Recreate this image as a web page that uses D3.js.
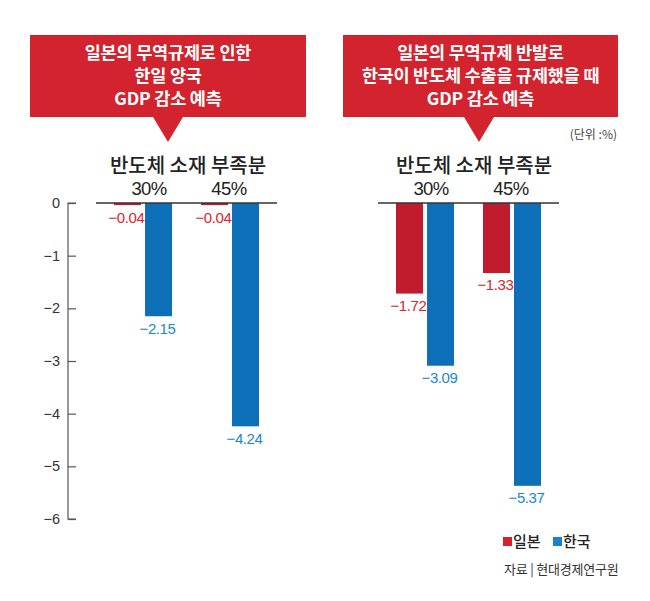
<!DOCTYPE html>
<html><head><meta charset="utf-8">
<script src="https://cdn.jsdelivr.net/npm/d3@7"></script>
<style>body{margin:0;background:#fff}svg{display:block}</style>
</head><body>
<svg id="c" width="650" height="601"></svg>
<script>
const groups = ["30%", "45%"];
const series = ["일본", "한국"];
const panelTitles = [
  ["일본의 무역규제로 인한", "한일 양국", "GDP 감소 예측"],
  ["일본의 무역규제 반발로", "한국이 반도체 수출을 규제했을 때", "GDP 감소 예측"]
];
const subtitle = "반도체 소재 부족분";
const japanLeft = [-0.04, -0.04];
const koreaLeft = [-2.15, -4.24];
const japanRight = [-1.72, -1.33];
const koreaRight = [-3.09, -5.37];
const yTicks = [0, -1, -2, -3, -4, -5, -6];
const unitLabel = "(단위 :%)";
const sourceLabel = "자료 | 현대경제연구원";

const KR = "'Noto Sans CJK KR','Noto Sans',sans-serif";
const NUM = "'Liberation Sans',Arial,sans-serif";
const colors = {box:"#d2232e", barJ:"#c01c2d", barK:"#0e6fb9", txtJ:"#e0232b", txtK:"#1b86d6"};

const svg = d3.select("#c");
const y = d3.scaleLinear().domain([0, -6]).range([203, 519]);

// y axis
const yAxis = d3.axisRight(y).tickValues(yTicks).tickSize(8).tickFormat(d => d === 0 ? "0" : "−" + Math.abs(d));
const ga = svg.append("g").attr("transform", "translate(68,0)").call(yAxis);
ga.select(".domain").attr("stroke", "#555").attr("stroke-width", 1.2).attr("d", "M8," + y(0) + "H0V" + y(-6) + "H8");
ga.selectAll(".tick line").attr("stroke", "#555").attr("stroke-width", 1.2);
ga.selectAll(".tick text").attr("x", -8).attr("text-anchor", "end").attr("font-family", NUM)
  .attr("font-size", 14.5).attr("fill", "#333");

const panels = [
  {x0: 96, x1: 277, box: [30, 306], tip: 168, j: japanLeft, k: koreaLeft, title: panelTitles[0], subX: 188},
  {x0: 378, x1: 559, box: [343, 618], tip: 479, j: japanRight, k: koreaRight, title: panelTitles[1], subX: 474}
];

panels.forEach(p => {
  const g = svg.append("g");
  // callout box
  const boxTop = 35, boxBot = 117;
  g.append("path").attr("fill", colors.box)
    .attr("d", `M${p.box[0]},${boxTop}H${p.box[1]}V${boxBot}H${p.tip + 15}L${p.tip},${142}L${p.tip - 15},${boxBot}H${p.box[0]}Z`);
  const cx = (p.box[0] + p.box[1]) / 2;
  p.title.forEach((t, i) => {
    g.append("text").attr("x", cx).attr("y", 53 + i * 23).attr("dy", "0.36em")
      .attr("text-anchor", "middle").attr("font-family", KR).attr("font-weight", 700)
      .attr("font-size", 17.5).attr("fill", "#fff").attr("letter-spacing", -0.2).text(t);
  });
  // subtitle
  g.append("text").attr("x", p.subX).attr("y", 166).attr("dy", "0.36em").attr("text-anchor", "middle")
    .attr("font-family", KR).attr("font-weight", 500).attr("font-size", 20).attr("fill", "#222").text(subtitle);

  const x0 = d3.scaleBand().domain(groups).range([p.x0, p.x1]).paddingInner(0.333).paddingOuter(0.207);
  const x1 = d3.scaleBand().domain(series).range([0, x0.bandwidth()]).paddingInner(0.13);

  groups.forEach((gr, i) => {
    g.append("text").attr("x", x0(gr) + x0.bandwidth() / 2 + (i === 0 ? 6 : -1)).attr("y", 188).attr("dy", "0.36em")
      .attr("text-anchor", "middle").attr("font-family", NUM).attr("font-size", 18.5).attr("fill", "#222")
      .attr("letter-spacing", -0.6).text(gr);
    const vals = [p.j[i], p.k[i]];
    vals.forEach((v, si) => {
      const bx = x0(gr) + x1(series[si]);
      g.append("rect").attr("x", bx).attr("y", y(0)).attr("width", x1.bandwidth())
        .attr("height", y(v) - y(0)).attr("fill", si === 0 ? colors.barJ : colors.barK);
      g.append("text").attr("x", bx + x1.bandwidth() / 2 - 1).attr("y", y(v) + 12).attr("dy", "0.36em")
        .attr("text-anchor", "middle").attr("font-family", NUM).attr("font-size", 15)
        .attr("letter-spacing", -0.4).attr("fill", si === 0 ? colors.txtJ : colors.txtK)
        .text("−" + Math.abs(v).toFixed(2));
    });
  });
  // baseline
  g.append("line").attr("x1", p.x0).attr("x2", p.x1).attr("y1", y(0)).attr("y2", y(0))
    .attr("stroke", "#333").attr("stroke-width", 1.5);
});

// unit
svg.append("text").attr("x", 617).attr("y", 135).attr("dy", "0.36em").attr("text-anchor", "end")
  .attr("font-family", KR).attr("font-size", 12).attr("fill", "#444").text(unitLabel);

// legend
const leg = svg.append("g");
const legX = [503, 553];
series.forEach((s, i) => {
  leg.append("rect").attr("x", legX[i]).attr("y", 537).attr("width", 9).attr("height", 9)
    .attr("fill", i === 0 ? "#d7222d" : "#1483d0");
  leg.append("text").attr("x", legX[i] + 10).attr("y", 541.5).attr("dy", "0.36em")
    .attr("font-family", KR).attr("font-weight", 500).attr("font-size", 15).attr("fill", "#222").text(s);
});

// source
svg.append("text").attr("x", 504).attr("y", 569).attr("dy", "0.36em")
  .attr("font-family", KR).attr("font-size", 13).attr("fill", "#333").attr("letter-spacing", -0.2).text(sourceLabel);
</script>
</body></html>
